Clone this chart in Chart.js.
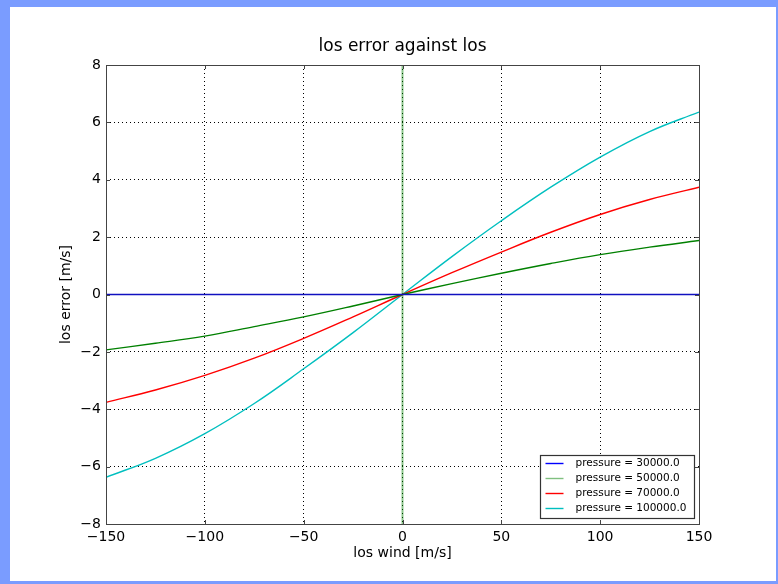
<!DOCTYPE html>
<html>
<head>
<meta charset="utf-8">
<script src="https://cdn.jsdelivr.net/npm/chart.js@4/dist/chart.umd.min.js"></script>
<style>
  html, body { margin: 0; padding: 0; }
  body { width: 778px; height: 584px; background: #7a9cff; position: relative; overflow: hidden; }
  #frame { position: absolute; left: 10px; top: 7px; width: 766px; height: 574px; background: #fff; }
</style>
</head>
<body>
<div id="frame"><canvas id="losChart" width="766" height="574"></canvas></div>
<script>
// los wind [m/s]
let windSpeeds = [-150, -125, -100, -75, -50, -25, 0, 25, 50, 75, 100, 125, 150]

// los error [m/s] per pressure level
let error30000 = [0, 0, 0, 0, 0, 0, 0, 0, 0, 0, 0, 0, 0]
let error50000 = [-1.93, -1.70, -1.45, -1.12, -0.78, -0.40, 0, 0.38, 0.74, 1.08, 1.39, 1.65, 1.88]
let error70000 = [-3.76, -3.33, -2.82, -2.22, -1.53, -0.78, 0, 0.76, 1.48, 2.17, 2.79, 3.31, 3.74]
let error100000 = [-6.37, -5.71, -4.85, -3.80, -2.59, -1.33, 0, 1.32, 2.57, 3.74, 4.79, 5.68, 6.36]

let seriesLabels = ["pressure = 30000.0", "pressure = 50000.0", "pressure = 70000.0", "pressure = 100000.0"]
let seriesColors = ["#1010c0", "#008000", "#ff0000", "#00bfbf"]
let legendColors = ["#0000ff", "#80c080", "#ff0000", "#00bfbf"]

let xTicks = [-150, -100, -50, 0, 50, 100, 150]
let yTicks = [-8, -6, -4, -2, 0, 2, 4, 6, 8]

let chartTitle = "los error against los"

function toPoints(values) {
	let pts = []
	for(let i = 0; i < windSpeeds.length; ++i) {
		pts.push({x: windSpeeds[i], y: values[i]})
	}
	return pts
}

let allSeries = [error30000, error50000, error70000, error100000]
let datasets = []
for(let i = 0; i < allSeries.length; ++i) {
	datasets.push({
		'label': seriesLabels[i],
		'data': toPoints(allSeries[i]),
		'borderColor': seriesColors[i],
		'borderWidth': 1.4,
		'pointRadius': 0,
		'fill': false,
		'tension': 0.4,
	})
}
// vertical marker at zero wind
datasets.push({
	'label': '',
	'data': [{x: 0, y: yTicks[0]}, {x: 0, y: yTicks[yTicks.length - 1]}],
	'borderColor': "rgba(0,128,0,0.45)",
	'borderWidth': 2,
	'pointRadius': 0,
	'fill': false,
})

const minus = v => String(v).replace('-', '\u2212')

// title, frame, inward ticks and the boxed legend
const framePlugin = {
	id: 'frame',
	afterDraw(chart) {
		const ctx = chart.ctx
		const a = chart.chartArea
		const sx = chart.scales.x, sy = chart.scales.y
		ctx.save()
		ctx.fillStyle = '#000'
		ctx.font = '17px "DejaVu Sans"'
		ctx.textAlign = 'center'
		ctx.textBaseline = 'middle'
		ctx.fillText(chartTitle, (a.left + a.right) / 2, 40)

		ctx.strokeStyle = '#444'
		ctx.lineWidth = 1
		ctx.strokeRect(Math.round(a.left) + 0.5, Math.round(a.top) + 0.5, Math.round(a.right - a.left), Math.round(a.bottom - a.top))
		ctx.beginPath()
		xTicks.forEach(v => {
			const px = Math.round(sx.getPixelForValue(v)) + 0.5
			ctx.moveTo(px, a.top); ctx.lineTo(px, a.top + 4)
			ctx.moveTo(px, a.bottom); ctx.lineTo(px, a.bottom - 4)
		})
		yTicks.forEach(v => {
			const py = Math.round(sy.getPixelForValue(v)) + 0.5
			ctx.moveTo(a.left, py); ctx.lineTo(a.left + 4, py)
			ctx.moveTo(a.right, py); ctx.lineTo(a.right - 4, py)
		})
		ctx.stroke()

		// legend
		const w = 154, h = 63
		const bx = Math.round(a.right - 5 - w) + 0.5
		const by = Math.round(a.bottom - 6 - h) + 0.5
		ctx.fillStyle = '#fff'
		ctx.fillRect(bx, by, w, h)
		ctx.strokeStyle = '#333'
		ctx.lineWidth = 1.2
		ctx.strokeRect(bx, by, w, h)
		ctx.font = '10.5px "DejaVu Sans"'
		ctx.textAlign = 'left'
		ctx.textBaseline = 'middle'
		ctx.fillStyle = '#000'
		for(let i = 0; i < seriesLabels.length; ++i) {
			const ry = by + 8 + i * 15
			ctx.strokeStyle = legendColors[i]
			ctx.lineWidth = 1.4
			ctx.beginPath()
			ctx.moveTo(bx + 5, ry); ctx.lineTo(bx + 23, ry)
			ctx.stroke()
			ctx.fillText(seriesLabels[i], bx + 35, ry)
		}
		ctx.restore()
	}
}

Chart.defaults.font.family = '"DejaVu Sans", sans-serif'
Chart.defaults.color = '#000'

new Chart(document.getElementById('losChart'), {
	'type': 'line',
	'data': {'datasets': datasets},
	'options': {
		'responsive': false,
		'animation': false,
		'layout': {'padding': {'left': 0, 'right': 77, 'top': 58, 'bottom': 0}},
		'plugins': {
			'legend': {'display': false},
			'tooltip': {'enabled': false},
			'title': {'display': false},
		},
		'scales': {
			'x': {
				'type': 'linear',
				'min': -150,
				'max': 150,
				'z': 1,
				'afterFit': s => { s.height = 57 },
				'afterBuildTicks': s => { s.ticks = xTicks.map(v => ({value: v})) },
				'ticks': {'font': {'size': 14}, 'padding': 5, 'maxRotation': 0, 'callback': v => minus(v)},
				'grid': {'color': '#000', 'lineWidth': 1, 'drawTicks': false},
				'border': {'display': false, 'dash': [1, 3]},
				'title': {'display': true, 'text': "los wind [m/s]", 'font': {'size': 14}, 'padding': {'top': 0, 'bottom': 19.6}},
			},
			'y': {
				'type': 'linear',
				'min': -8,
				'max': 8,
				'z': 1,
				'afterFit': s => { s.width = 96 },
				'afterBuildTicks': s => { s.ticks = yTicks.map(v => ({value: v})) },
				'ticks': {'font': {'size': 14}, 'padding': 5, 'callback': v => minus(v)},
				'grid': {'color': '#000', 'lineWidth': 1, 'drawTicks': false},
				'border': {'display': false, 'dash': [1, 3]},
				'title': {'display': true, 'text': "los error [m/s]", 'font': {'size': 14}, 'padding': {'top': 47.6, 'bottom': 0}},
			}
		}
	},
	'plugins': [framePlugin]
});
</script>
</body>
</html>
